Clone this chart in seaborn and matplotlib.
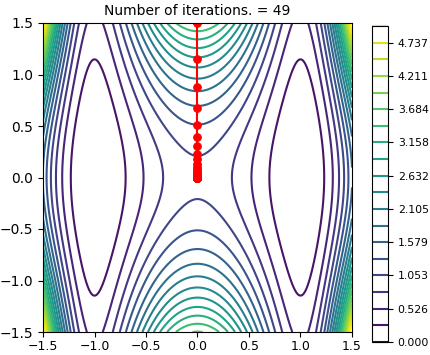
import numpy as np
import pandas as pd
import matplotlib
matplotlib.use("Agg")
import matplotlib.pyplot as plt
import seaborn as sns

# --- data ---
x_lim = [-1.5, 1.5]
y_lim = [-1.5, 1.5]
level_min, level_max, n_levels = 0.0, 5.0, 20
n_iter = 49

# gradient descent path (x stays at 0)
path_y = [1.500, 1.148, 0.878, 0.672, 0.514, 0.393, 0.301, 0.230, 0.176, 0.135,
          0.103, 0.079, 0.060, 0.046, 0.035, 0.027, 0.021, 0.016, 0.012, 0.009,
          0.007, 0.005, 0.004, 0.003, 0.002, 0.002, 0.001, 0.001, 0.001, 0.000,
          0.000, 0.000, 0.000, 0.000, 0.000, 0.000, 0.000, 0.000, 0.000, 0.000,
          0.000, 0.000, 0.000, 0.000, 0.000, 0.000, 0.000, 0.000, 0.000, 0.000]
path_x = [0.0] * len(path_y)


def surface(x, y):
    # double well along x, shallow valley along x = +-1
    return (x ** 2 - 1) ** 2 * (1 + y ** 2) + 0.2 * y ** 2


xs = np.linspace(x_lim[0], x_lim[1], 400)
ys = np.linspace(y_lim[0], y_lim[1], 400)
X, Y = np.meshgrid(xs, ys)
Z = surface(X, Y)
levels = np.linspace(level_min, level_max, n_levels)

df = pd.DataFrame({"x": path_x, "y": path_y})

# --- plot ---
W, H = 431, 355
fig = plt.figure(figsize=(W / 100, H / 100), dpi=100)
ax = fig.add_axes([43 / W, 23 / H, 309 / W, 309 / H])
cax = fig.add_axes([372 / W, 13 / H, 16 / W, 316 / H])

cs = ax.contour(X, Y, Z, levels=levels, cmap="viridis", linewidths=1.5)
sns.lineplot(data=df, x="x", y="y", estimator=None, sort=False, ax=ax,
             color="red", marker="o", markersize=5.5, markeredgecolor="red",
             linewidth=1.5)

ax.set_xlim(x_lim)
ax.set_ylim(y_lim)
ax.set_aspect("equal")
ax.set_xlabel("")
ax.set_ylabel("")
ax.set_title(f"Number of iterations. = {n_iter}", fontsize=10)
# keep the x tick labels inside the short canvas
ax.tick_params(axis="x", labelsize=9, pad=2)

cb = fig.colorbar(cs, cax=cax)
cb.ax.tick_params(labelsize=7.8)

fig.savefig("out.png", dpi=100)
